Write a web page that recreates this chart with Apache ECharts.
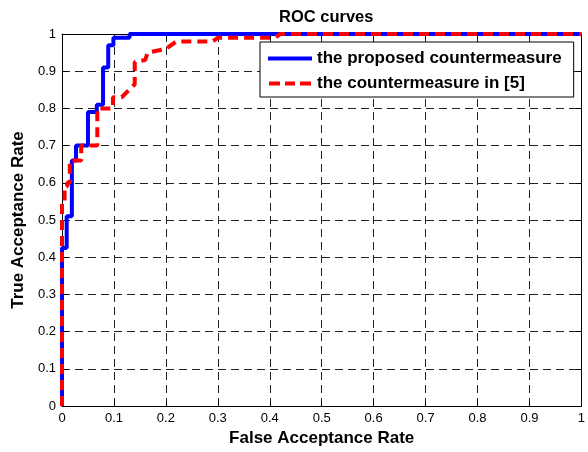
<!DOCTYPE html>
<html>
<head>
<meta charset="utf-8">
<script src="https://cdn.jsdelivr.net/npm/echarts@6/dist/echarts.min.js"></script>
<style>
  html, body { margin: 0; padding: 0; background: #fff; }
  #chart { width: 588px; height: 452px; }
</style>
</head>
<body>
<div id="chart"></div>
<script>
// ROC staircase points: [false acceptance, true acceptance]
const proposedRoc = [
  [0, 0], [0, 0.425], [0.009, 0.425], [0.009, 0.51], [0.019, 0.51], [0.019, 0.66],
  [0.027, 0.66], [0.027, 0.70], [0.05, 0.70], [0.05, 0.79], [0.067, 0.79], [0.067, 0.81],
  [0.079, 0.81], [0.079, 0.91], [0.089, 0.91], [0.089, 0.97], [0.099, 0.97], [0.099, 0.99],
  [0.13, 0.99], [0.13, 1], [1, 1]
]
const refRoc = [
  [0, 0], [0, 0.55], [0.005, 0.55], [0.005, 0.59], [0.01, 0.59], [0.01, 0.60],
  [0.015, 0.60], [0.015, 0.66], [0.037, 0.66], [0.037, 0.70], [0.068, 0.70], [0.068, 0.80],
  [0.098, 0.80], [0.098, 0.83], [0.115, 0.83], [0.14, 0.865], [0.14, 0.925], [0.16, 0.93],
  [0.165, 0.95], [0.2, 0.96], [0.22, 0.98], [0.29, 0.98], [0.3, 0.99], [0.41, 0.99],
  [0.42, 1], [1, 1]
]
const seriesNames = ['the proposed countermeasure', 'the countermeasure in [5]']
const tickStep = 0.1

const chart = echarts.init(document.getElementById('chart'), null, { renderer: 'canvas' })

const fontFam = 'Liberation Sans, Arial, sans-serif'
const labelFont = { color: '#000', fontSize: 13, fontFamily: fontFam }
const nameFont = { color: '#000', fontSize: 17, fontWeight: 'bold', fontFamily: fontFam }

function mainAxis (pos, name, gap) {
  return {
    type: 'value',
    position: pos,
    min: 0,
    max: 1,
    interval: tickStep,
    name: name,
    nameLocation: 'middle',
    nameGap: gap,
    nameTextStyle: nameFont,
    axisLine: { show: true, lineStyle: { color: '#000', width: 1 } },
    axisTick: { show: true, inside: true, length: 5, lineStyle: { color: '#000' } },
    axisLabel: Object.assign({ margin: 6, formatter: v => String(+v.toFixed(1)) }, labelFont),
    splitLine: { show: true, lineStyle: { color: '#222', width: 1, type: [8, 5] } }
  }
}
function sideAxis (pos) {
  return {
    type: 'value',
    position: pos,
    min: 0,
    max: 1,
    interval: tickStep,
    axisLine: { show: true, onZero: false, lineStyle: { color: '#000', width: 1 } },
    axisTick: { show: true, inside: true, length: 5, lineStyle: { color: '#000' } },
    axisLabel: { show: false },
    splitLine: { show: false }
  }
}

chart.setOption({
  animation: false,
  title: {
    text: 'ROC curves',
    left: 274,
    top: 4,
    textStyle: { color: '#000', fontSize: 16.5, fontWeight: 'bold', fontFamily: fontFam }
  },
  grid: { left: 62, right: 6, top: 34, bottom: 44 },
  xAxis: [mainAxis('bottom', 'False Acceptance Rate', 24), sideAxis('top')],
  yAxis: [mainAxis('left', 'True Acceptance Rate', 27), sideAxis('right')],
  legend: {
    orient: 'vertical',
    left: 260,
    top: 42,
    itemWidth: 44,
    itemHeight: 4,
    itemGap: 8,
    padding: [8, 12, 5, 8],
    backgroundColor: '#fff',
    borderColor: '#000',
    borderWidth: 1,
    borderRadius: 0,
    textStyle: nameFont,
    data: [
      { name: seriesNames[0], icon: 'path://M0,0h44v4h-44z' },
      { name: seriesNames[1], icon: 'path://M0,0h11v4h-11z M16,0h10v4h-10z M31,0h11v4h-11z' }
    ]
  },
  series: [
    {
      name: seriesNames[0],
      type: 'line',
      data: proposedRoc,
      showSymbol: false,
      symbol: 'none',
      clip: false,
      z: 5,
      color: '#0000ff',
      lineStyle: { color: '#0000ff', width: 4 }
    },
    {
      name: seriesNames[1],
      type: 'line',
      data: refRoc,
      showSymbol: false,
      symbol: 'none',
      clip: false,
      z: 6,
      color: '#ff0000',
      lineStyle: { color: '#ff0000', width: 4, type: [10, 6] }
    }
  ]
})
</script>
</body>
</html>
